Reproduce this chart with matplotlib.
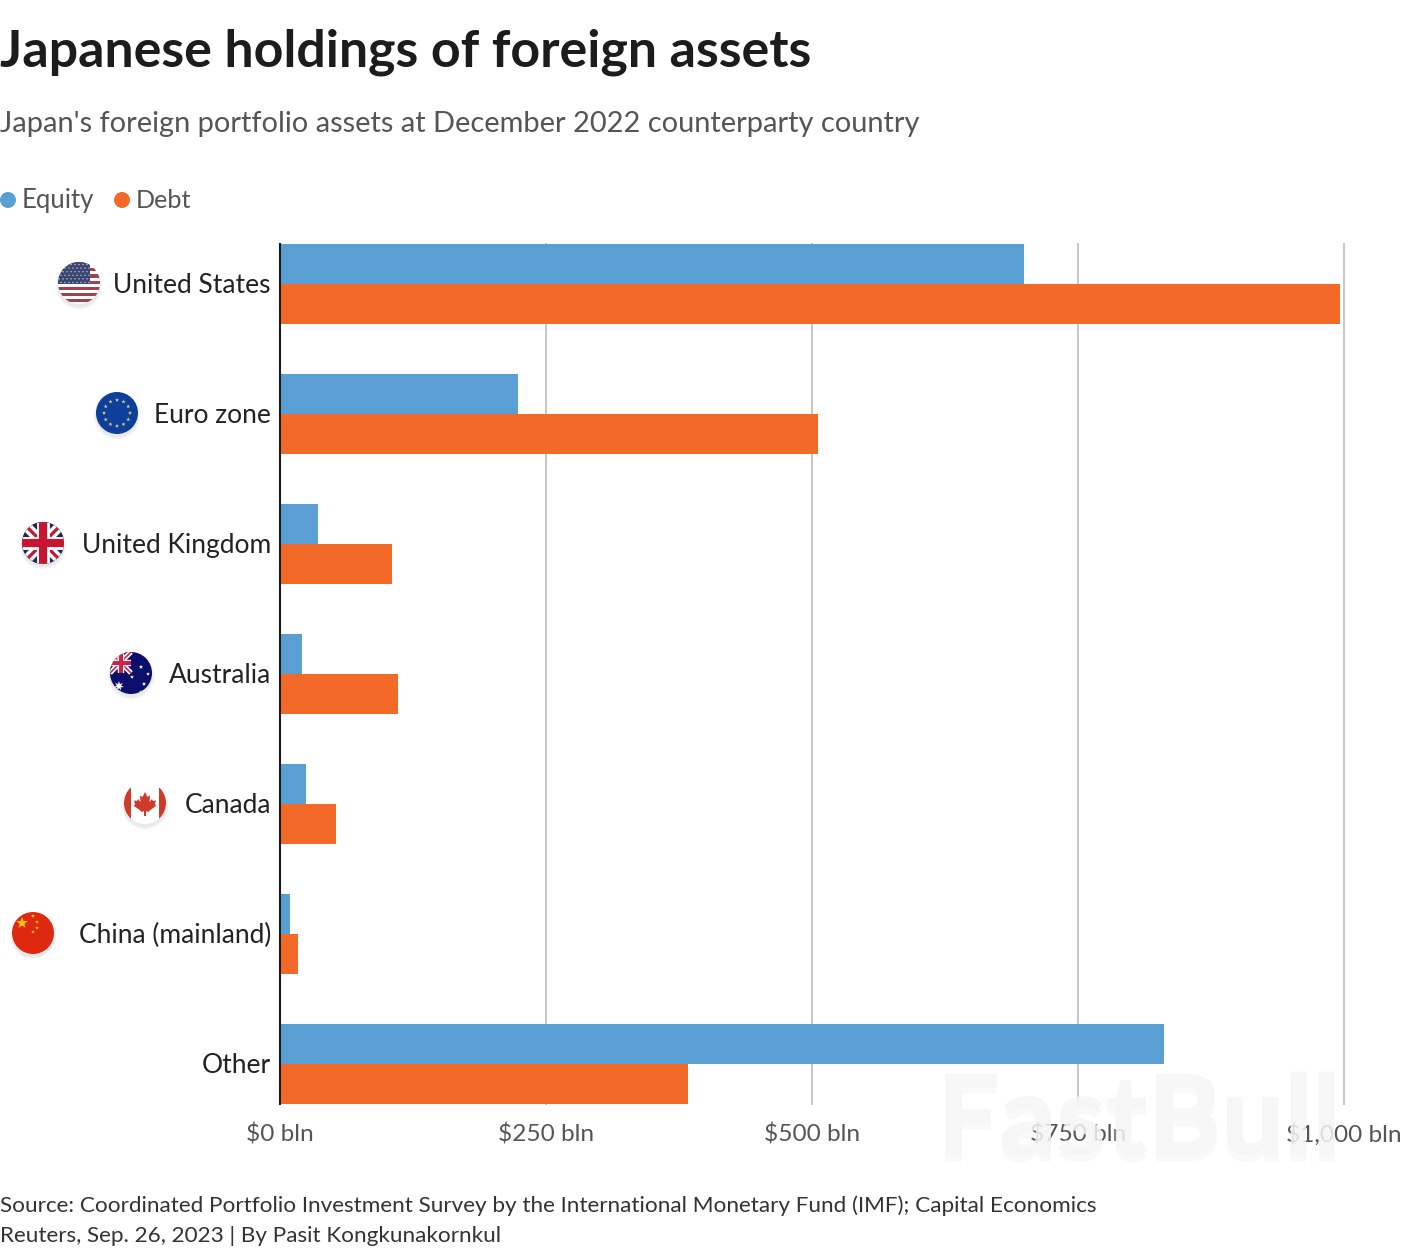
import matplotlib
matplotlib.use('Agg')
import numpy as np
import matplotlib.pyplot as plt
from matplotlib.patches import Circle, Rectangle, Polygon
from matplotlib.transforms import ScaledTranslation
import matplotlib.patheffects as pe

plt.rcParams['font.family'] = ['Lato', 'DejaVu Sans']

categories = ['United States', 'Euro zone', 'United Kingdom', 'Australia', 'Canada',
              'China (mainland)', 'Other']
equity = [699, 224, 36, 21, 24, 9, 831]
debt = [996, 506, 105, 111, 53, 17, 383]
xticks = [0, 250, 500, 750, 1000]
xticklabels = ['$0 bln', '$250 bln', '$500 bln', '$750 bln', '$1,000 bln']

W, H = 1420, 1254
BLUE = '#5a9fd4'
ORANGE = '#f36a28'
TEXT = '#222222'
GREY = '#555555'

fig = plt.figure(figsize=(W / 100, H / 100), dpi=100, facecolor='white')

# main chart, placed in pixels
ax = fig.add_axes([280 / W, 1 - 1104 / H, (1344 - 280) / W, (1104 - 244) / H])
y = np.arange(len(categories))
bar_h = 40 / 130
ax.barh(y - bar_h / 2, equity, height=bar_h, color=BLUE, zorder=3)
ax.barh(y + bar_h / 2, debt, height=bar_h, color=ORANGE, zorder=3)
ax.set_xlim(0, 1000)
ax.set_ylim(6 + bar_h, -bar_h)
ax.set_xticks(xticks)
ax.set_xticklabels(xticklabels, fontsize=17.6, color=GREY)
ax.set_yticks(y)
ax.set_yticklabels(categories, fontsize=19, color=TEXT)
ax.tick_params(axis='both', length=0)
ax.tick_params(axis='x', pad=14)
ax.tick_params(axis='y', pad=6.5)
ax.grid(axis='x', color='#c6c6c6', lw=1.4, zorder=1)
for gl in ax.get_xgridlines():
    gl.set_clip_on(False)
ax.set_axisbelow(True)
for s in ['top', 'right', 'bottom']:
    ax.spines[s].set_visible(False)
ax.spines['left'].set_color('#1a1a1a')
ax.spines['left'].set_linewidth(1.5)
ax.spines['left'].set_zorder(5)
ax.patch.set_alpha(0)
# category labels sit a pixel higher in the original
for lab in ax.get_yticklabels():
    lab.set_transform(lab.get_transform() + ScaledTranslation(0, 1 / 100, fig.dpi_scale_trans))

# overlay in pixel coordinates for texts and flags
ov = fig.add_axes([0, 0, 1, 1], zorder=10)
ov.set_xlim(0, W)
ov.set_ylim(H, 0)
ov.axis('off')
ov.patch.set_alpha(0)

ov.text(0, 67, 'Japanese holdings of foreign assets', fontsize=37.4, fontweight='bold',
        color='#1c1c1c', va='baseline', ha='left')
ov.text(0, 132, "Japan's foreign portfolio assets at December 2022 counterparty country",
        fontsize=20.85, color=GREY, va='baseline', ha='left')

ov.add_patch(Circle((8, 200), 8, color=BLUE, lw=0))
ov.text(22, 208, 'Equity', fontsize=18.5, color=GREY, va='baseline')
ov.add_patch(Circle((122, 200), 8, color=ORANGE, lw=0))
ov.text(136, 208, 'Debt', fontsize=18.2, color=GREY, va='baseline')

ov.text(0, 1212, 'Source: Coordinated Portfolio Investment Survey by the International Monetary Fund (IMF); Capital Economics',
        fontsize=16.2, color='#333333', va='baseline')
ov.text(0, 1242, 'Reuters, Sep. 26, 2023 | By Pasit Kongkunakornkul',
        fontsize=16.2, color='#333333', va='baseline')


def star(cx, cy, r, color, clip, n=5):
    ang = np.linspace(-np.pi / 2, 1.5 * np.pi, 2 * n, endpoint=False)
    rad = np.where(np.arange(2 * n) % 2 == 0, r, r * 0.42)
    p = Polygon(np.c_[cx + rad * np.cos(ang), cy + rad * np.sin(ang)], color=color, lw=0)
    ov.add_patch(p)
    p.set_clip_path(clip)


def base(cx, cy, color='white'):
    # soft shadow below the disc
    for r, a in [(23.5, 0.04), (22.5, 0.06), (21.5, 0.08)]:
        ov.add_patch(Circle((cx, cy + 3), r, color='#888888', alpha=a, lw=0))
    disc = Circle((cx, cy), 21, color=color, lw=0)
    ov.add_patch(disc)
    return disc


def rect(x, y0, w, h, color, clip):
    r = Rectangle((x, y0), w, h, color=color, lw=0)
    ov.add_patch(r)
    r.set_clip_path(clip)


def line(xs, ys, color, lw, clip):
    l, = ov.plot(xs, ys, color=color, lw=lw, solid_capstyle='butt')
    l.set_clip_path(clip)


def union_jack(cx, cy, s, clip, navy, red):
    # s is half the width of the jack
    rect(cx - s, cy - s, 2 * s, 2 * s, navy, clip)
    for sign in (1, -1):
        line([cx - s, cx + s], [cy - sign * s, cy + sign * s], 'white', s * 0.34, clip)
        line([cx - s, cx + s], [cy - sign * s, cy + sign * s], red, s * 0.11, clip)
    line([cx - s, cx + s], [cy, cy], 'white', s * 0.44, clip)
    line([cx, cx], [cy - s, cy + s], 'white', s * 0.44, clip)
    line([cx - s, cx + s], [cy, cy], red, s * 0.28, clip)
    line([cx, cx], [cy - s, cy + s], red, s * 0.28, clip)


# United States
cx, cy = 79, 283
d = base(cx, cy)
for i in range(7):
    rect(cx - 21, cy - 21 + i * 6.2, 42, 3.1, '#a0424e', d)
rect(cx - 21, cy - 21, 32, 22, '#3c4672', d)
for i in range(6):
    for j in range(8):
        dot = Circle((cx - 20 + j * 4 + (i % 2) * 2, cy - 18.5 + i * 3.6), 0.7, color='#c9cddb', lw=0)
        ov.add_patch(dot)
        dot.set_clip_path(d)

# Euro zone
cx, cy = 117, 413
d = base(cx, cy, '#0f3f9c')
for a in np.arange(12) * np.pi / 6:
    star(cx + 13 * np.cos(a), cy + 13 * np.sin(a), 2.1, '#c9d36a', d)

# United Kingdom
cx, cy = 43, 543
d = base(cx, cy, '#1d2a5b')
union_jack(cx, cy, 21, d, '#1d2a5b', '#c8142f')

# Australia
cx, cy = 131, 673
d = base(cx, cy, '#0a0f6b')
union_jack(cx - 10.5, cy - 10.5, 10.5, d, '#0a0f6b', '#d0204a')
star(cx - 12, cy + 13, 5, 'white', d, n=7)
for px, py, pr in [(10, -6, 2.2), (1, 4, 2), (17, 1, 2), (13, 11, 2.2), (10, 19, 2)]:
    star(cx + px, cy + py, pr, 'white', d)

# Canada
cx, cy = 145, 803
d = base(cx, cy)
rect(cx - 21, cy - 21, 7, 42, '#cf3a2b', d)
rect(cx + 14, cy - 21, 7, 42, '#cf3a2b', d)
leaf_x = np.array([0, 2.5, 5, 4.5, 7, 8, 11, 10, 11, 4, 4.5, 0])
leaf_y = np.array([-11, -6, -7.5, -1, -4, -2, -2.5, 1, 3, 8, 9, 8])
leaf = Polygon(np.r_[np.c_[cx + leaf_x, cy + leaf_y], np.c_[cx - leaf_x[::-1], cy + leaf_y[::-1]]],
               color='#cf3a2b', lw=0)
ov.add_patch(leaf)
rect(cx - 0.7, cy + 6, 1.4, 7, '#cf3a2b', d)

# China
cx, cy = 33, 933
d = base(cx, cy, '#de2910')
star(cx - 11, cy - 10, 6, '#ffc20e', d)
for px, py in [(0, -17), (4, -11), (4, -5), (0, -1)]:
    star(cx + px, cy + py, 2, '#ffc20e', d)

# faint watermark over the chart corner
ov.text(1139, 1122, 'FastBull', fontsize=80, fontweight='black', color='#f6f6f6', alpha=0.6,
        ha='center', va='center',
        path_effects=[pe.withSimplePatchShadow(offset=(0, -5), shadow_rgbFace='#bbbbbb', alpha=0.08),
                      pe.Normal()])

fig.savefig('out.png', dpi=100)
